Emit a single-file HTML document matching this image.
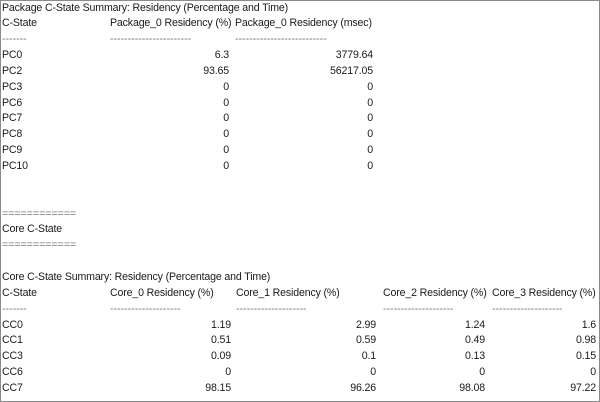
<!DOCTYPE html>
<html><head><style>
html,body{margin:0;padding:0;background:#fff}
#w{position:relative;width:598px;height:400px;border:1px solid #8a8a8a;overflow:hidden;font-family:"Liberation Sans",sans-serif;font-size:10.6px;color:#1a1a1a;letter-spacing:-0.15px}
.t{position:absolute;white-space:nowrap;line-height:12px}
.r{text-align:right}
.d{color:#777;letter-spacing:0}
</style></head><body><div id="w">
<script>
var rows=[];
function y(i){return 7.5+15.85*i-7;}
var out='';
function L(x,i,s,cls){out+='<div class="t '+(cls||'')+'" style="left:'+x+'px;top:'+y(i)+'px">'+s+'</div>';}
function R(x,i,s){out+='<div class="t r" style="right:'+(598-x)+'px;top:'+y(i)+'px">'+s+'</div>';}
L(1,0,'Package C-State Summary: Residency (Percentage and Time)');
L(1,1,'C-State');L(109,1,'Package_0 Residency (%)');L(234,1,'Package_0 Residency (msec)');
L(1,2,'-------','d');L(109,2,'-----------------------','d');L(234,2,'--------------------------','d');
var pk=[['PC0','6.3','3779.64'],['PC2','93.65','56217.05'],['PC3','0','0'],['PC6','0','0'],['PC7','0','0'],['PC8','0','0'],['PC9','0','0'],['PC10','0','0']];
pk.forEach(function(r,k){L(1,3+k,r[0]);R(228,3+k,r[1]);R(372,3+k,r[2]);});
L(1,13,'============','d');L(1,14,'Core C-State');L(1,15,'============','d');
L(1,17,'Core C-State Summary: Residency (Percentage and Time)');
L(1,18,'C-State');L(109,18,'Core_0 Residency (%)');L(235,18,'Core_1 Residency (%)');L(382,18,'Core_2 Residency (%)');L(491,18,'Core_3 Residency (%)');
L(1,19,'-------','d');L(109,19,'--------------------','d');L(235,19,'--------------------','d');L(382,19,'--------------------','d');L(491,19,'--------------------','d');
var cc=[['CC0','1.19','2.99','1.24','1.6'],['CC1','0.51','0.59','0.49','0.98'],['CC3','0.09','0.1','0.13','0.15'],['CC6','0','0','0','0'],['CC7','98.15','96.26','98.08','97.22']];
cc.forEach(function(r,k){L(1,20+k,r[0]);R(230,20+k,r[1]);R(375,20+k,r[2]);R(484,20+k,r[3]);R(595,20+k,r[4]);});
document.write(out);
</script>
</div></body></html>
